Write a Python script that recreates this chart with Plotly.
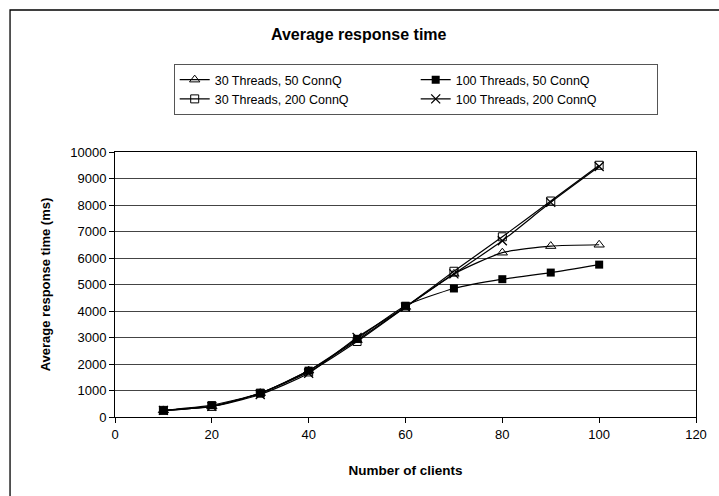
import plotly.graph_objects as go

clients = [10, 20, 30, 40, 50, 60, 70, 80, 90, 100]
t30_c50 = [250, 400, 900, 1750, 2900, 4150, 5400, 6200, 6450, 6500]
t100_c50 = [250, 450, 900, 1750, 2950, 4200, 4850, 5200, 5450, 5750]
t30_c200 = [250, 400, 900, 1700, 2850, 4150, 5500, 6800, 8150, 9500]
t100_c200 = [250, 400, 850, 1650, 3000, 4150, 5400, 6650, 8100, 9450]

series = [
    ("30 Threads, 50 ConnQ", t30_c50, dict(symbol="triangle-up-open", size=9, color="black", line=dict(width=1, color="black"))),
    ("100 Threads, 50 ConnQ", t100_c50, dict(symbol="square", size=8, color="black")),
    ("30 Threads, 200 ConnQ", t30_c200, dict(symbol="square-open", size=8, color="black", line=dict(width=1, color="black"))),
    ("100 Threads, 200 ConnQ", t100_c200, dict(symbol="x-thin-open", size=9, color="black", line=dict(width=1.3, color="black"))),
]

fig = go.Figure()
for name, ys, mk in series:
    fig.add_trace(go.Scatter(x=clients, y=ys, name=name, mode="lines+markers",
                             line=dict(color="black", width=1.2, shape="spline", smoothing=0.6),
                             marker=mk))

font = "Liberation Sans, Arial, sans-serif"
fig.update_layout(
    width=719, height=496,
    margin=dict(l=115, r=20, t=152, b=79),
    paper_bgcolor="white", plot_bgcolor="white",
    font=dict(family=font, size=13, color="black"),
    title=dict(text="<b>Average response time</b>", x=(360 - 115) / 584, xref="paper", xanchor="center",
               y=1 - 34 / 496, yanchor="middle", font=dict(size=16)),
    showlegend=True,
    legend=dict(orientation="h", x=(174 - 115) / 584, xanchor="left", y=(417 - 64) / 265, yanchor="top",
                bordercolor="#555555", borderwidth=1, entrywidth=196, entrywidthmode="pixels",
                font=dict(size=12.5), bgcolor="white"),
    xaxis=dict(range=[0, 120], dtick=20, showgrid=False, zeroline=False,
               showline=True, linecolor="black", linewidth=1, mirror=True,
               ticks="outside", ticklen=5, tickcolor="black", tickformat="d",
               title=dict(text="<b>Number of clients</b>", standoff=24, font=dict(size=13.5))),
    yaxis=dict(range=[0, 10000], dtick=1000, showgrid=True, gridcolor="#444444", gridwidth=1,
               zeroline=False, showline=True, linecolor="black", linewidth=1, mirror=True,
               ticks="outside", ticklen=5, tickcolor="black", tickformat="d",
               title=dict(text="<b>Average response time (ms)</b>", standoff=16, font=dict(size=13))),
    shapes=[dict(type="rect", xref="paper", yref="paper",
                 x0=(9.5 - 115) / 584, x1=(730 - 115) / 584,
                 y0=(417 - 510) / 265, y1=(417 - 10) / 265,
                 line=dict(color="black", width=1.3), layer="below")],
)
fig.write_html("out.html")
